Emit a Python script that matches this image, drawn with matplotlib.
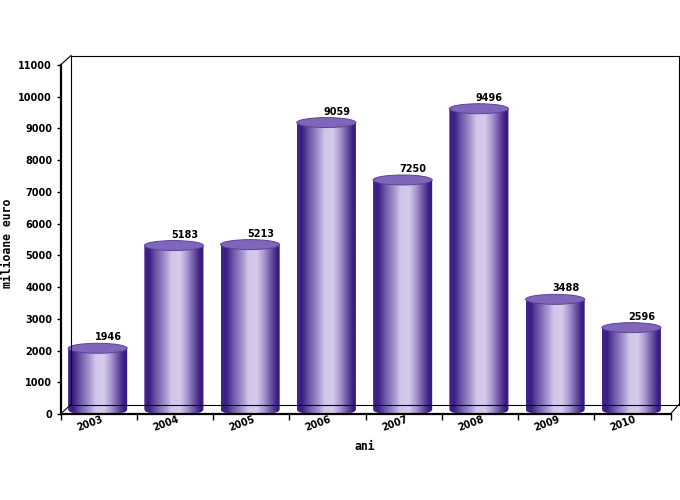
import matplotlib
matplotlib.use("Agg")
import matplotlib.pyplot as plt
import numpy as np
from matplotlib.colors import LinearSegmentedColormap
from matplotlib.patches import Ellipse, PathPatch
from matplotlib.path import Path

years = ['2003', '2004', '2005', '2006', '2007', '2008', '2009', '2010']
values = [1946, 5183, 5213, 9059, 7250, 9496, 3488, 2596]
y_ticks = [0, 1000, 2000, 3000, 4000, 5000, 6000, 7000, 8000, 9000, 10000, 11000]

W, H = 680, 500
AX_L, AX_R, AX_T, AX_B = 60.5, 670.5, 65, 414
DEPTH_X, DEPTH_Y = 10.5, 9.5
PANEL_R = 678.8
BAR_W = 0.775
ELL_H = 10  # ellipse height in px

figure = plt.figure(figsize=(W / 100, H / 100), dpi=100)
axes = figure.add_axes([AX_L / W, 1 - AX_B / H, (AX_R - AX_L) / W, (AX_B - AX_T) / H])
axes.set_xlim(0, len(years))
axes.set_ylim(0, 11000)
axes.patch.set_alpha(0)

px_x = len(years) / (AX_R - AX_L)
px_y = 11000 / (AX_B - AX_T)

cmap = LinearSegmentedColormap.from_list('cyl', [
    (0.0, '#43258c'), (0.08, '#3a1c82'), (0.2, '#6d55a6'), (0.36, '#a796cf'),
    (0.46, '#d2c6e8'), (0.6, '#d6cbec'), (0.72, '#a896d0'), (0.85, '#644b9f'),
    (0.94, '#3a1c82'), (1.0, '#3a1a80')])
gradient = np.linspace(0, 1, 256).reshape(1, -1)

for i, v in enumerate(values):
    cx = i + 0.5 - 1.0 * px_x
    left = cx - BAR_W / 2
    right = cx + BAR_W / 2
    top = v + 4 * px_y
    bottom = 5 * px_y
    ry = ELL_H / 2 * px_y
    k = 0.8
    rx = BAR_W / 2
    # body: straight sides, flattened round bottom
    verts = [(left, top), (left, bottom),
             (left, bottom - k * ry), (cx - k * rx, bottom - ry), (cx, bottom - ry),
             (cx + k * rx, bottom - ry), (right, bottom - k * ry), (right, bottom),
             (right, top), (left, top)]
    codes = [Path.MOVETO, Path.LINETO, Path.CURVE4, Path.CURVE4, Path.CURVE4,
             Path.CURVE4, Path.CURVE4, Path.CURVE4, Path.LINETO, Path.CLOSEPOLY]
    body = PathPatch(Path(verts, codes), facecolor='none', edgecolor='none',
                     transform=axes.transData)
    axes.add_patch(body)
    im = axes.imshow(gradient, extent=[left, right, 0, top], cmap=cmap, vmin=0, vmax=1,
                     aspect='auto', interpolation='bilinear', zorder=3)
    im.set_clip_path(body)
    axes.add_patch(Ellipse((cx, top), BAR_W, ELL_H * px_y, facecolor='#7f66ba',
                           edgecolor='#5d4399', linewidth=0.7, zorder=4))
    axes.annotate(str(v), (cx, top), xytext=(10.5, 11), textcoords='offset pixels',
                  ha='center', va='center', fontsize=7, fontweight='bold', zorder=5)

axes.set_xlim(0, len(years))
axes.set_ylim(0, 11000)

for side in ['top', 'right']:
    axes.spines[side].set_visible(False)
axes.spines['left'].set_linewidth(1.6)
axes.spines['bottom'].set_linewidth(1.6)
axes.spines['left'].set_zorder(6)
axes.spines['bottom'].set_zorder(6)

axes.set_yticks(y_ticks)
axes.set_yticklabels([str(t) for t in y_ticks], fontsize=7, fontweight='bold')
axes.tick_params(axis='y', length=3, width=1, pad=3)
axes.set_xticks(np.arange(len(years) + 1))
axes.set_xticklabels([''] * (len(years) + 1))
axes.tick_params(axis='x', length=4, width=1)

for i, year in enumerate(years):
    axes.annotate(year, (i + 0.5, 0), xytext=(-9, -10), textcoords='offset pixels',
                  ha='center', va='center', fontsize=7, fontweight='bold', rotation=20)

# 3d back panel
def line(xs, ys):
    figure.add_artist(plt.Line2D(np.array(xs) / W, 1 - np.array(ys) / H, color='black',
                                 linewidth=0.8))

bx = AX_L + DEPTH_X
line([AX_L, bx], [AX_T, AX_T - DEPTH_Y])
line([bx, PANEL_R], [AX_T - DEPTH_Y, AX_T - DEPTH_Y])
line([bx, bx], [AX_T - DEPTH_Y, AX_B - DEPTH_Y])
line([AX_L, bx], [AX_B, AX_B - DEPTH_Y])
line([bx, PANEL_R], [AX_B - DEPTH_Y, AX_B - DEPTH_Y])
line([AX_R, PANEL_R], [AX_B, AX_B - DEPTH_Y])
line([PANEL_R, PANEL_R], [AX_T - DEPTH_Y, AX_B - DEPTH_Y])

figure.text(365 / W, 1 - 446 / H, 'ani', ha='center', va='center',
            family='DejaVu Sans Mono', fontweight='bold', fontsize=8.3)
figure.text(8 / W, 1 - 243 / H, 'milioane euro', ha='center', va='center', rotation=90,
            family='DejaVu Sans Mono', fontweight='bold', fontsize=8.3)

figure.savefig('out.png', dpi=100)
